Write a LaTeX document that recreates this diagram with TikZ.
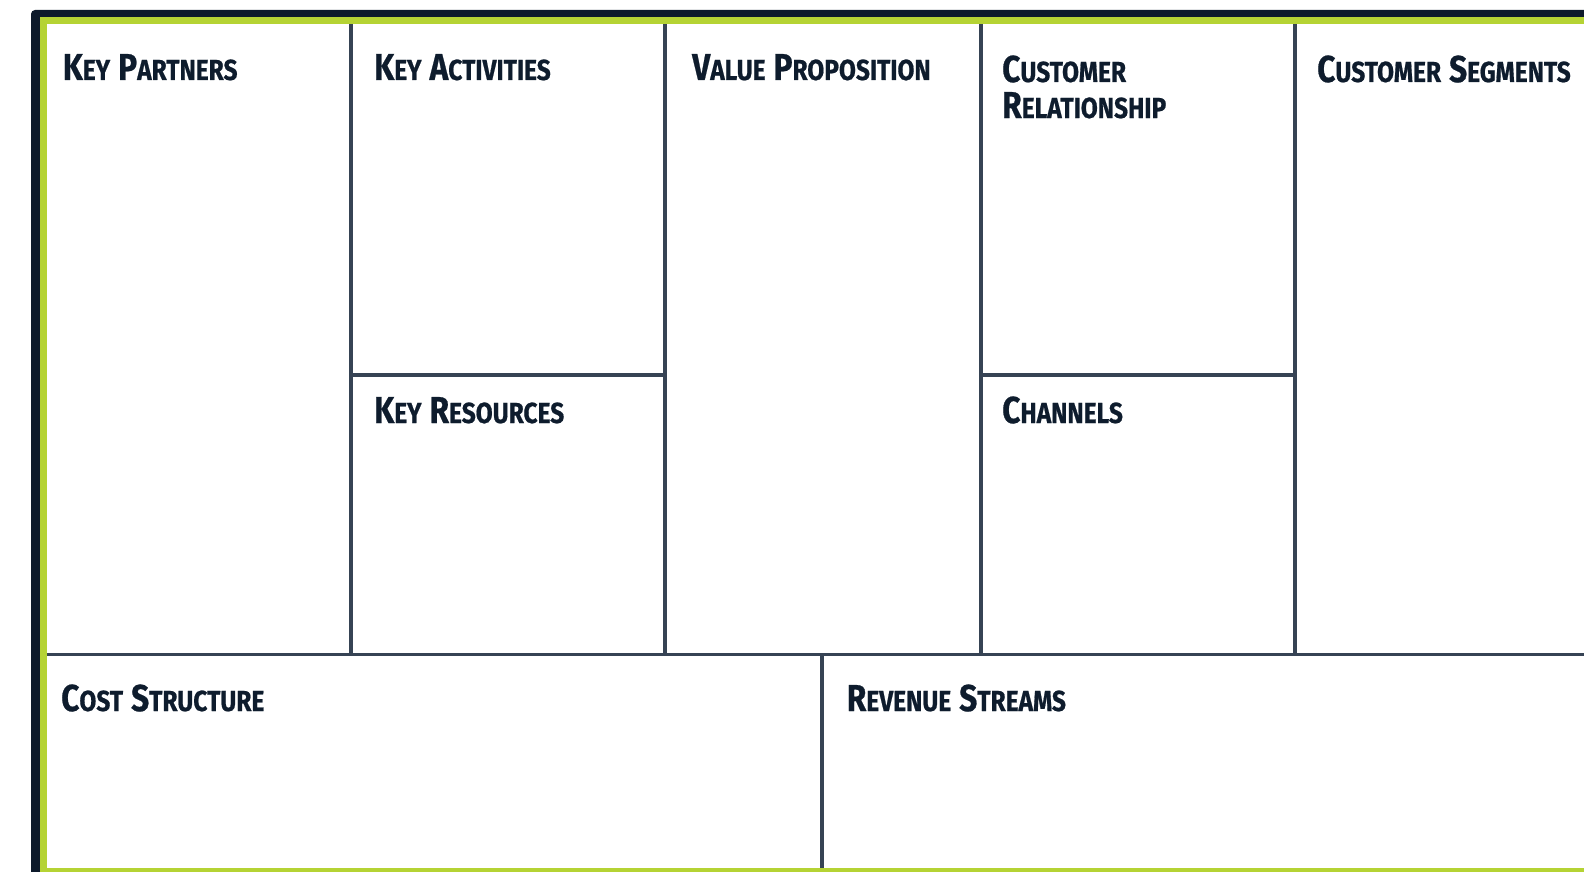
\documentclass[tikz,border=0pt]{standalone}
\usepackage{fontspec}
\newfontfamily\hdfont[FakeStretch=0.845,FakeBold=0.6]{Fira Sans Bold}
\definecolor{navy}{HTML}{0D1A2B}
\definecolor{lime}{HTML}{B5D334}
\definecolor{gridc}{HTML}{364354}
\definecolor{txtc}{HTML}{0E1C2D}
\newcommand\capA[1]{{\fontsize{37.5}{40}\selectfont #1}}
\newcommand\capB[1]{{\fontsize{29}{32}\selectfont #1}}
\newcommand\wsp{\hspace*{8pt}}
\tikzset{
  gridline/.style={draw=gridc, line width=3.5pt},
  head/.style={anchor=base west, inner sep=0pt, text=txtc, font=\hdfont, align=left}
}
\begin{document}
\begin{tikzpicture}[x=1pt,y=-1pt]
\useasboundingbox (0,0) rectangle (1584,872);
\clip (0,0) rectangle (1584,872);
\fill[white] (0,0) rectangle (1584,872);
% frame
\fill[navy, rounded corners=4pt] (31,10) rectangle (1620,900);
\fill[lime] (40,17.5) rectangle (1620,900);
\fill[white] (47,24) rectangle (1620,868);
% grid
\coordinate (L) at (47,654.5);
\coordinate (R) at (1600,654.5);
\coordinate (t1) at (351,24);   \coordinate (b1) at (351,654.5);
\coordinate (t2) at (665,24);   \coordinate (b2) at (665,654.5);
\coordinate (t3) at (981,24);   \coordinate (b3) at (981,654.5);
\coordinate (t4) at (1295,24);  \coordinate (b4) at (1295,654.5);
\coordinate (m1) at (351,375);  \coordinate (m2) at (665,375);
\coordinate (m3) at (981,375);  \coordinate (m4) at (1295,375);
\coordinate (bt) at (822,654.5); \coordinate (bb) at (822,868);
\draw[gridline] (t1) -- (b1);
\draw[gridline] (t2) -- (b2);
\draw[gridline] (t3) -- (b3);
\draw[gridline] (t4) -- (b4);
\draw[gridline] (m1) -- (m2);
\draw[gridline] (m3) -- (m4);
\draw[gridline] (L) -- (R);
\draw[gridline] (bt) -- (bb);
% headings
\node[head] (kp) at (62.6,80) {\capA{K}\capB{EY}\wsp\capA{P}\capB{ARTNERS}};
\node[head] (ka) at (374,80) {\capA{K}\capB{EY}\wsp\capA{A}\capB{CTIVITIES}};
\node[head] (vp) at (692,80) {\capA{V}\capB{ALUE}\wsp\capA{P}\capB{ROPOSITION}};
\node[head] (cr1) at (1002,82) {\capA{C}\capB{USTOMER}};
\node[head] (cr2) at (1002,118) {\capA{R}\capB{ELATIONSHIP}};
\node[head] (cs) at (1317,82) {\capA{C}\capB{USTOMER}\wsp\capA{S}\capB{EGMENTS}};
\node[head] (kr) at (374,423) {\capA{K}\capB{EY}\wsp\capA{R}\capB{ESOURCES}};
\node[head] (ch) at (1002,423) {\capA{C}\capB{HANNELS}};
\node[head] (cost) at (61,711) {\capA{C}\capB{OST}\wsp\capA{S}\capB{TRUCTURE}};
\node[head] (rev) at (846.6,711) {\capA{R}\capB{EVENUE}\wsp\capA{S}\capB{TREAMS}};
\end{tikzpicture}
\end{document}
